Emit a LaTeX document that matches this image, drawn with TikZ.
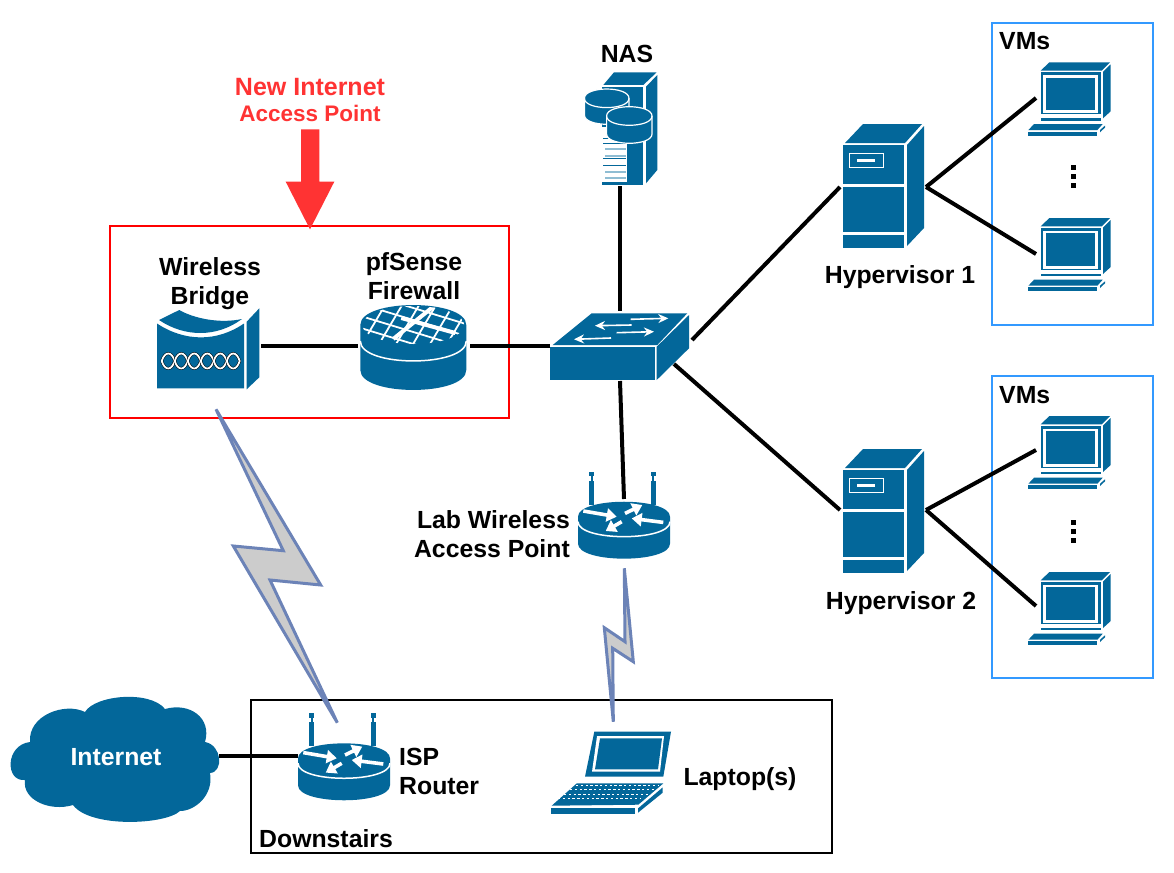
\documentclass[tikz,border=0pt]{standalone}
\usepackage{fontspec}
\setmainfont{Liberation Sans}
\usetikzlibrary{arrows.meta}
\usetikzlibrary{positioning}
\definecolor{iconblue}{HTML}{03679A}
\definecolor{boltblue}{HTML}{6C83B7}
\definecolor{boltgray}{HTML}{CCCCCC}
\definecolor{alertred}{HTML}{FF3333}
\definecolor{vmblue}{HTML}{3399FF}
\definecolor{paleblue}{HTML}{8FBDD3}
\begin{document}
\begin{tikzpicture}[
	x=1pt,y=-1pt,
	font=\bfseries\fontsize{24.8}{29}\selectfont
]
\tikzset{
    iconbox/.style = {rectangle, inner sep=0pt, outer sep=0pt},
    wire/.style = {line width=4pt, black},
    panel/.style = {fill=iconblue, draw=none},
    whiteline/.style = {draw=white, line width=1.5pt},
    boxlabel/.style = {inner sep=0pt, align=center},
    bolt/.style = {draw=boltblue, fill=boltgray, line width=3pt, line join=miter, miter limit=12},
    vmframe/.style = {draw=vmblue, line width=2pt},
    smallarrow/.style = {draw=white, line width=1.6pt, -{Stealth[length=10pt,width=9pt,fill=white]}},
    fatarrow/.style = {draw=white, line width=3.6pt, -{Triangle[length=10pt,width=13pt,fill=white]}},
    pics/puck/.style n args={4}{code={
        \path[panel] (-#1,0) -- (-#1,#4) .. controls (-#1,{#4+1.33*#2}) and (#1,{#4+1.33*#2}) .. (#1,#4) -- (#1,0)
            .. controls (#1,{-1.33*#2}) and (-#1,{-1.33*#2}) .. (-#1,0) -- cycle;
        \draw[whiteline] (-#1,#3) .. controls (-#1,{#3+1.33*#2}) and (#1,{#3+1.33*#2}) .. (#1,#3);
    }},
    pics/antennas/.style={code={
        \foreach \x in {-32.3,29.3} {
            \fill[iconblue] (\x-2.5,-45) rectangle (\x+2.5,-40.5);
            \fill[iconblue] (\x-0.9,-41) rectangle (\x+0.9,-36);
            \fill[iconblue] (\x-2.5,-36) rectangle (\x+2.5,-12);
        }
    }},
    pics/router/.style={code={
        \pic at (0,0) {antennas};
        \pic at (0,0) {puck={46}{15}{5}{27}};
        \draw[fatarrow] (-40.7,-5.7) -- (-7.3,0);
        \draw[fatarrow] (1,-3.3) -- (18.3,-11.7);
        \draw[fatarrow] (39.3,5.7) -- (7.7,1.7);
        \draw[fatarrow] (-2.3,5) -- (-18.3,14.3);
    }},
    pics/firewall/.style={code={
        \pic at (0,0) {puck={53}{20}{16}{45}};
        \begin{scope}
            \clip (0,0) ellipse [x radius=51, y radius=19];
            \foreach \x in {-70,-53,...,40} {
                \draw[white,line width=1.8pt] (\x,22) -- (\x+26,-22);
            }
            \foreach \y in {-34,-22,...,14} {
                \draw[white,line width=1.8pt] (-56,\y) -- (56,\y+34);
            }
            \draw[white,line width=4pt] (-20,14) -- (22,-20);
            \draw[white,line width=4pt] (-12,-7) -- (42,8);
        \end{scope}
    }},
    pics/bridgeicon/.style={code={
        \path[panel] (0,19.5) .. controls (28,38) and (60,38) .. (87,19.5) -- (87,84.3) -- (0,84.3) -- cycle;
        \path[panel] (2,16) -- (22.3,6) .. controls (36,14) and (62,20) .. (85,15) .. controls (60,33.5) and (28,33.5) .. (2,16) -- cycle;
        \path[panel] (89.7,17.7) -- (102.3,4.3) -- (102.3,73.3) -- (89.7,85.3) -- cycle;
        \foreach \i in {0,...,5} {
            \draw[black,line width=2.8pt,line join=round] (4.7+13*\i,57) .. controls (8+13*\i,47) and (14.5+13*\i,47) .. (17.7+13*\i,57)
                .. controls (14.5+13*\i,67) and (8+13*\i,67) .. (4.7+13*\i,57);
            \draw[white,line width=1.8pt,line join=round] (4.7+13*\i,57) .. controls (8+13*\i,47) and (14.5+13*\i,47) .. (17.7+13*\i,57)
                .. controls (14.5+13*\i,67) and (8+13*\i,67) .. (4.7+13*\i,57);
        }
    }},
    pics/switchicon/.style={code={
        \path[panel] (2.7,32) -- (41.7,0.3) -- (137.3,0.3) -- (107.3,32) -- cycle;
        \path[panel] (0,34.3) rectangle (105,67);
        \path[panel] (106.7,33.7) -- (139,2) -- (139,35.3) -- (106.7,67) -- cycle;
        \draw[smallarrow] (80.7,6.3) -- (118.3,5.3);
        \draw[smallarrow] (81.7,12) -- (45,12.7);
        \draw[smallarrow] (66.7,19.7) -- (104,18.7);
        \draw[smallarrow] (61,25) -- (24,26.3);
    }},
    pics/hosticon/.style={code={
        \path[panel] (2,19) -- (20,0) -- (79,0) -- (62,19) -- cycle;
        \path[panel] (64,21) -- (81,2) -- (81,104) -- (64,122) -- cycle;
        \path[panel] (0,21) rectangle (61,60);
        \path[panel] (0,63) rectangle (61,108);
        \path[panel] (0,111) rectangle (61,124);
        \draw[whiteline] (6.7,29.7) rectangle (40.3,43.3);
        \fill[white] (14,35) rectangle (32,38);
    }},
    pics/pcicon/.style={code={
        \path[panel] (0,8.3) -- (8.7,0) -- (69.3,0) -- (61,8.3) -- cycle;
        \path[panel] (62.3,9.5) -- (70,2) -- (70,49) -- (62.3,56) -- cycle;
        \path[panel] (0,10) rectangle (60.5,52);
        \fill[white] (2.6,12.6) rectangle (57.5,50.5);
        \path[panel] (5.3,15.3) rectangle (54.3,48);
        \path[panel] (0,55.5) rectangle (60,58.3);
        \path[panel] (-6.7,61.7) -- (62,61.7) -- (56.7,67.7) -- (-12.3,67.7) -- cycle;
        \path[panel] (-12.3,69.3) rectangle (56.7,73.3);
        \path[panel] (59.3,67.7) -- (64.3,63.3) -- (64.3,65.3) -- (59.3,70) -- cycle;
    }},
    pics/diskicon/.style n args={3}{code={
        \filldraw[fill=iconblue,draw=white,line width=1.2pt] (-#1,0) -- (-#1,#3) .. controls (-#1,{#3+1.33*#2}) and (#1,{#3+1.33*#2}) .. (#1,#3) -- (#1,0)
            .. controls (#1,{-1.33*#2}) and (-#1,{-1.33*#2}) .. (-#1,0) -- cycle;
        \draw[white,line width=1.2pt] (-#1,0) .. controls (-#1,{1.33*#2}) and (#1,{1.33*#2}) .. (#1,0);
    }},
    pics/nasicon/.style={code={
        \path[panel] (2.3,13) -- (13,0.3) -- (55.7,0.3) -- (42.3,13) -- cycle;
        \path[panel] (45,14.7) -- (56.3,3) -- (56.3,98) -- (45,111.3) -- cycle;
        \path[panel] (0.7,14.7) rectangle (42.3,113);
        \fill[white] (0.7,55) rectangle (26.3,109.7);
        \foreach \y in {66,71,86,93} {
            \fill[iconblue] (2,\y) rectangle (25,\y+1);
        }
        \foreach \y in {76,83,99,105} {
            \fill[paleblue] (4,\y) rectangle (25,\y+1.6);
        }
        \pic at (5.7,26.3) {diskicon={22.3}{9.3}{16.7}};
        \pic at (28.3,44) {diskicon={22.7}{9.3}{18}};
    }},
    pics/laptopicon/.style={code={
        \path[panel] (43.3,0) -- (120,0) -- (112.3,45) -- (34,45) -- cycle;
        \fill[white] (46,4.5) -- (113,4.5) -- (109,40) -- (41,40) -- cycle;
        \path[panel] (49,6.7) -- (111,6.7) -- (107,37.7) -- (44,37.7) -- cycle;
        \path[panel] (25.7,51.7) -- (112.3,51.7) -- (87.3,73) -- (0.7,74) -- cycle;
        \foreach \y/\a/\b in {53.5/25/108, 58/19/103, 62.5/13/97, 67/7/90} {
            \draw[white,line width=1.4pt,dash pattern=on 2.4pt off 2.4pt] (\a,\y) -- (\b,\y);
        }
        \path[panel] (0,76) rectangle (84,82.5);
        \path[panel] (87,76.7) -- (111.7,55.7) -- (111.7,61) -- (87,81) -- cycle;
    }},
    pics/cloudicon/.style={code={
        \path[panel] (85,712) .. controls (95,695) and (150,690) .. (165,709)
            .. controls (190,702) and (212,718) .. (205,742)
            .. controls (222,745) and (224,772) .. (210,773)
            .. controls (214,795) and (195,811) .. (180,811)
            .. controls (165,825) and (90,828) .. (73,805)
            .. controls (50,812) and (22,800) .. (25,780)
            .. controls (5,782) and (5,745) .. (30,742)
            .. controls (28,715) and (65,702) .. (85,712) -- cycle;
    }},
    pics/dots/.style={code={
        \foreach \y in {0,9,18} {
            \fill[black] (-2.5,\y-2.5) rectangle (2.5,\y+2.5);
        }
    }}
}
\useasboundingbox (0,0) rectangle (1174,872);
% frames
\node[iconbox,draw=red,line width=1.5pt,minimum width=399pt,minimum height=192pt] (newap) at (309.5,322) {};
\node[iconbox,draw=black,line width=2pt,minimum width=581pt,minimum height=153pt] (down) at (541.5,776.5) {};
\node[iconbox,vmframe,minimum width=161pt,minimum height=302pt] (vmsa) at (1072.5,174) {};
\node[iconbox,vmframe,minimum width=161pt,minimum height=302pt] (vmsb) at (1072.5,527) {};
% icons
\pic at (157,304) {bridgeicon};
\pic at (413.3,325) {firewall};
\pic at (550,313) {switchicon};
\pic at (601,72) {nasicon};
\pic at (843,124) {hosticon};
\pic at (843,449) {hosticon};
\pic at (1040.7,62.3) {pcicon};
\pic at (1040.7,218) {pcicon};
\pic at (1040.7,416) {pcicon};
\pic at (1040.7,572) {pcicon};
\pic at (624,516.7) {router};
\pic at (344,758.3) {router};
\pic at (551,731.7) {laptopicon};
\pic at (0,0) {cloudicon};
\pic at (1073.3,167) {dots};
\pic at (1073.3,522) {dots};
% anchors for the wires
\node[iconbox,minimum width=104pt,minimum height=84pt] (bridge) at (209,346) {};
\node[iconbox,minimum width=112pt,minimum height=84pt] (fw) at (414,346) {};
\node[iconbox,minimum width=140pt,minimum height=70pt] (swt) at (620,346) {};
\node[iconbox,minimum width=72pt,minimum height=114pt] (nas) at (620,129) {};
\node[iconbox,minimum width=86pt,minimum height=126pt] (hypa) at (883,187) {};
\node[iconbox,minimum width=86pt,minimum height=126pt] (hypb) at (883,510) {};
\node[iconbox,minimum width=76pt,minimum height=73pt] (vma) at (1074,98) {};
\node[iconbox,minimum width=76pt,minimum height=73pt] (vmb) at (1074,254) {};
\node[iconbox,minimum width=76pt,minimum height=73pt] (vmc) at (1074,450) {};
\node[iconbox,minimum width=76pt,minimum height=73pt] (vmd) at (1074,606) {};
\node[iconbox,minimum width=92pt,minimum height=34pt] (labap) at (624,516) {};
\node[iconbox,minimum width=92pt,minimum height=30pt] (isp) at (344,756) {};
\node[iconbox,minimum width=206pt,minimum height=124pt] (inet) at (116,756) {};
\coordinate (swtne) at (692,340);
\coordinate (swtse) at (674,364);
% wires
\draw[wire] (bridge.east) -- (fw.west);
\draw[wire] (fw.east) -- (swt.west);
\draw[wire] (nas.south) -- (swt.north);
\draw[wire] (swt.south) -- (labap.north);
\draw[wire] (swtne) -- (hypa.west);
\draw[wire] (swtse) -- (hypb.west);
\draw[wire] (hypa.east) -- (vma.west);
\draw[wire] (hypa.east) -- (vmb.west);
\draw[wire] (hypb.east) -- (vmc.west);
\draw[wire] (hypb.east) -- (vmd.west);
\draw[wire] (inet.east) -- (isp.west);
% radio links
\draw[bolt] (216,409.3) -- (320.7,585) -- (270,580) -- (337.3,722.7) -- (233.3,546) -- (283.3,550.7) -- cycle;
\draw[bolt] (624.3,568.3) -- (633.3,661.7) -- (612.7,648.3) -- (613.3,721.7) -- (604.3,627.7) -- (625,641.7) -- cycle;
% red marker
\fill[alertred] (301,129.3) -- (319.3,129.3) -- (319.3,181.7) -- (334.3,181.7) -- (310,229.3) -- (285.7,181.7) -- (301,181.7) -- cycle;
% labels
\node[boxlabel,text=alertred,font=\bfseries\fontsize{25}{29}\selectfont] (newline) at (310,87) {New Internet};
\node[boxlabel,text=alertred,font=\bfseries\fontsize{22.5}{29}\selectfont] (accline) at (310,113) {Access Point};
\node[boxlabel] (nastext) at (627,54) {NAS};
\node[boxlabel] (bridgetext) at (210,284) {Wireless\\Bridge};
\node[boxlabel] (fwtext) at (414,276) {pfSense\\Firewall};
\node[boxlabel] (hypatext) at (900,277.5) {Hypervisor 1};
\node[boxlabel] (hypbtext) at (901,603.5) {Hypervisor 2};
\node[boxlabel,anchor=west] (vmsatext) at (999,41) {VMs};
\node[boxlabel,anchor=west] (vmsbtext) at (999,395) {VMs};
\node[boxlabel,align=right,anchor=east] (labtext) at (570,534) {Lab Wireless\\Access Point};
\node[boxlabel,align=left,anchor=west] (isptext) at (399,771.5) {ISP\\Router};
\node[boxlabel] (laptext) at (740,779.5) {Laptop(s)};
\node[boxlabel,anchor=west] (downtext) at (259,839) {Downstairs};
\node[boxlabel,text=white] (inettext) at (116,757) {Internet};
\end{tikzpicture}
\end{document}
